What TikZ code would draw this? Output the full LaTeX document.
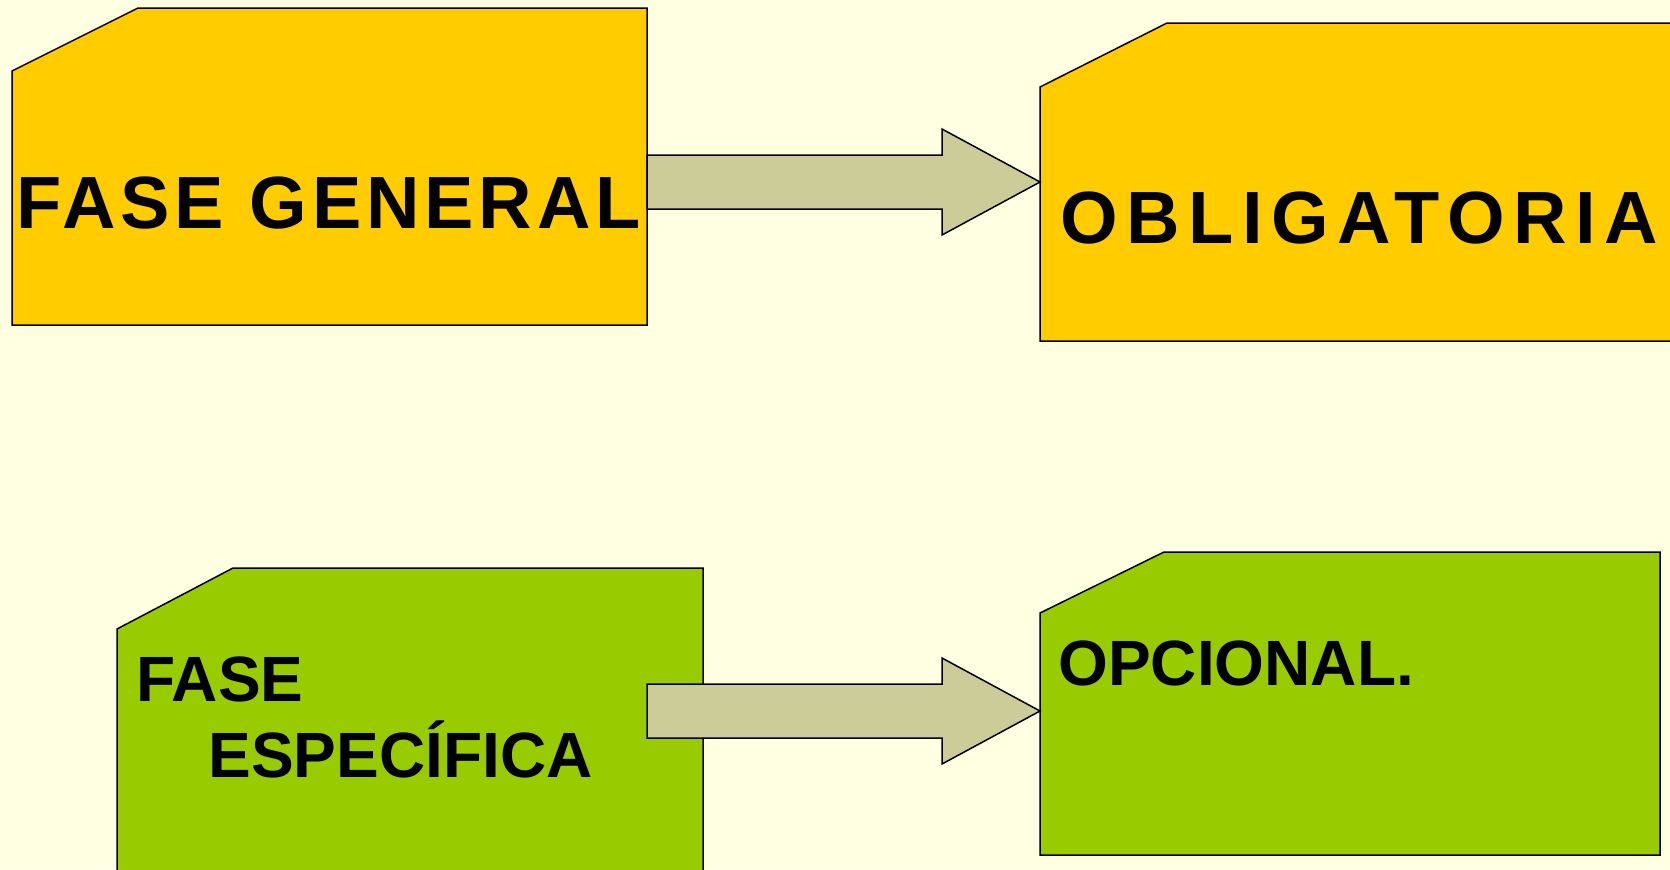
\documentclass[tikz,border=0pt]{standalone}
\usepackage{fontspec}
\setmainfont{Liberation Sans}
\usetikzlibrary{calc}

\definecolor{fondo}{HTML}{FFFFE1}
\definecolor{amarillo}{HTML}{FFCC00}
\definecolor{verde}{HTML}{99CC00}
\definecolor{flecha}{HTML}{CCCC99}

\tikzset{
  caja/.style={draw=black, line width=0.75pt, line join=miter},
  bloque/.style={draw=black, line width=0.75pt, fill=flecha},
  grande/.style={inner sep=0pt, anchor=base west, font=\bfseries\fontsize{37}{40}\selectfont},
  chico/.style={inner sep=0pt, anchor=base west, font=\bfseries\fontsize{32}{36}\selectfont},
}

% box with the upper left corner cut off: fill, x1, y1, x2, y2, cut dx, cut dy
\newcommand{\cajacorte}[7]{%
  \draw[caja, fill=#1] (#2,#3+#7) -- (#2+#6,#3) -- (#4,#3) -- (#4,#5) -- (#2,#5) -- cycle;}

% block arrow from one coordinate to the tip
\newcommand{\flechabloque}[2]{%
  \draw[bloque] ($(#1)+(0,-27)$) -- ($(#2)+(-98,-27)$) -- ($(#2)+(-98,-53)$) -- (#2)
    -- ($(#2)+(-98,53)$) -- ($(#2)+(-98,27)$) -- ($(#1)+(0,27)$) -- cycle;}

\begin{document}
\begin{tikzpicture}[x=0.5pt,y=-0.5pt]

\useasboundingbox (0,0) rectangle (1670,869);
\fill[fondo] (0,0) rectangle (1670,869);
\clip (0,0) rectangle (1670,869);

% upper row
\cajacorte{amarillo}{12}{8}{647}{325}{126}{63}
\cajacorte{amarillo}{1040}{23}{1700}{341}{127}{64}

\node[grande] (general) at (16,228) {\addfontfeature{LetterSpace=6.6}FASE GENERAL};
\node[grande] (obligatoria) at (1060,243) {\addfontfeature{LetterSpace=11.7}OBLIGATORIA};

\coordinate (a1) at (647,182);
\coordinate (b1) at (1040,182);
\flechabloque{a1}{b1}

% lower row
\cajacorte{verde}{117}{568}{703}{900}{116}{61}
\cajacorte{verde}{1040}{552}{1660}{855}{124}{61}

\node[chico] (fase) at (136,701) {FASE};
\node[chico] (especifica) at (208,777) {ESPECÍFICA};
\node[chico] (opcional) at (1058,685) {OPCIONAL.};

\coordinate (a2) at (647,711);
\coordinate (b2) at (1040,711);
\flechabloque{a2}{b2}

\end{tikzpicture}
\end{document}
